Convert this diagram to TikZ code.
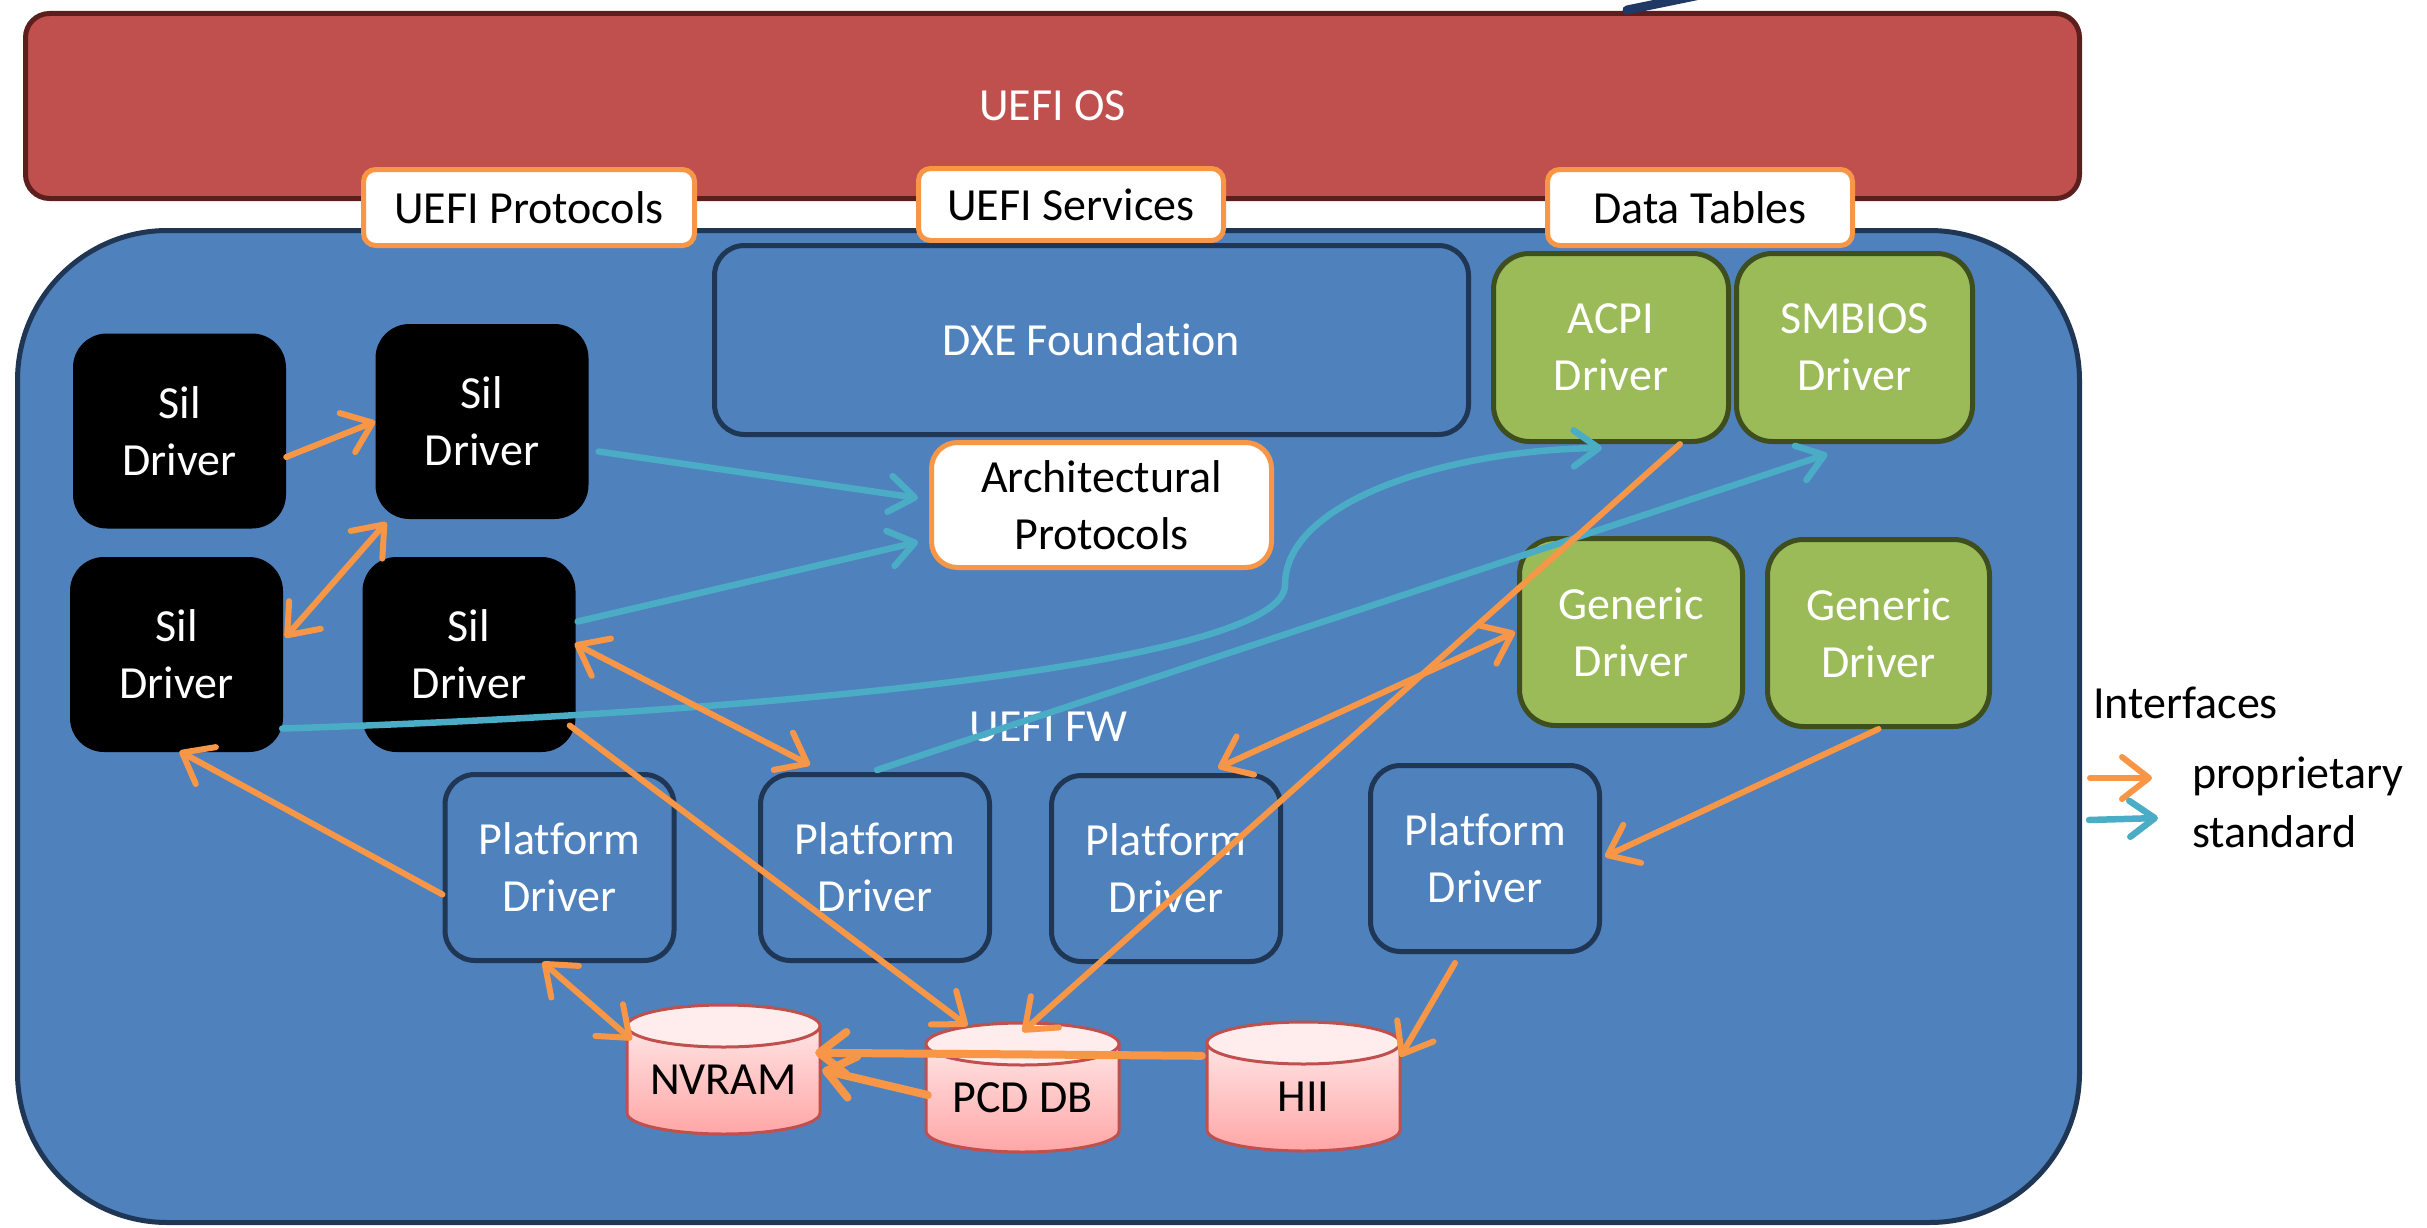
\documentclass[tikz,border=0pt]{standalone}
\usepackage{fontspec}
\setmainfont{Carlito}[Ligatures=NoCommon]
\usetikzlibrary{arrows.meta,calc}

\definecolor{osred}{HTML}{C0504D}
\definecolor{osedge}{HTML}{5C1F1D}
\definecolor{fwblue}{HTML}{4F81BD}
\definecolor{fwedge}{HTML}{1F3654}
\definecolor{drvgreen}{HTML}{9BBB59}
\definecolor{drvedge}{HTML}{3F4E1E}
\definecolor{propor}{HTML}{F79646}
\definecolor{stdcyan}{HTML}{4BACC6}
\definecolor{cylTop}{HTML}{FFE4E4}
\definecolor{cylLow}{HTML}{FFA6A6}
\definecolor{cylEdge}{HTML}{C0504D}
\definecolor{navy}{HTML}{1F3864}

% database drum: centre x, centre y of top ellipse, centre y of bottom ellipse
\newcommand\dbcyl[3]{%
  \path[top color=cylTop, bottom color=cylLow, draw=cylEdge, line width=3pt]
    (#1-96.5,#2) -- (#1-96.5,#3)
    arc[start angle=180, end angle=0, x radius=96.5, y radius=21]
    -- (#1+96.5,#2) -- cycle;
  \path[fill=cylTop!70!white, draw=cylEdge, line width=3pt]
    (#1,#2) ellipse[x radius=96.5, y radius=21];
}

\begin{document}
\begin{tikzpicture}[x=1pt, y=-1pt,
  every node/.style={font=\fontsize{46}{57}\selectfont, align=center, inner sep=0pt},
  osbox/.style={fill=osred, draw=osedge, line width=5pt, rounded corners=24pt, text=white},
  fwbox/.style={fill=fwblue, draw=fwedge, line width=5pt, rounded corners=150pt, text=white},
  tag/.style={fill=white, draw=propor, line width=5pt, rounded corners=12pt, text=black},
  silbox/.style={fill=black, rounded corners=34pt, text=white,
    minimum width=213pt, minimum height=195pt},
  platbox/.style={fill=fwblue, draw=fwedge, line width=5pt, rounded corners=30pt, text=white,
    minimum width=229pt, minimum height=186pt},
  greenbox/.style={fill=drvgreen, draw=drvedge, line width=5pt, rounded corners=36pt, text=white},
  dbnode/.style={minimum width=193pt, minimum height=108pt, text=black},
  prop/.style={draw=propor, line width=6pt, line cap=round, line join=round,
    >={Straight Barb[round, length=27pt, width=42pt]}, ->},
  propboth/.style={prop, <->},
  stdarrow/.style={draw=stdcyan, line width=6.5pt, line cap=round, line join=round,
    >={Straight Barb[round, length=25pt, width=36pt]}, ->},
]
\useasboundingbox (0,0) rectangle (2427,1228);

% containers
\node[osbox, minimum width=2054pt, minimum height=185pt] (os) at (1052.5,106) {UEFI OS};
\node[fwbox, minimum width=2062pt, minimum height=992pt] (fw) at (1048.5,726.5) {UEFI FW};

% interface tags
\node[tag, minimum width=331pt, minimum height=76pt] (tprot) at (529,207.5) {UEFI Protocols};
\node[tag, minimum width=305pt, minimum height=72pt] (tserv) at (1071,204.5) {UEFI Services};
\node[tag, minimum width=305pt, minimum height=76pt] (ttab) at (1700,207.5) {Data Tables};

% core
\node[platbox, minimum width=754pt, minimum height=189pt] (dxe) at (1091.5,340) {DXE Foundation};
\node[tag, rounded corners=26pt, minimum width=340pt, minimum height=125pt] (arch) at (1101.5,505) {Architectural\\Protocols};

% generic drivers
\node[greenbox, minimum width=235pt, minimum height=188pt] (acpi) at (1611,347.5) {ACPI\\Driver};
\node[greenbox, minimum width=236pt, minimum height=188pt] (smbios) at (1854.5,347.5) {SMBIOS\\Driver};
\node[greenbox, minimum width=223pt, minimum height=187pt] (gen1) at (1631,632) {Generic\\Driver};
\node[greenbox, minimum width=222pt, minimum height=187pt] (gen2) at (1878.5,633) {Generic\\Driver};

% silicon drivers
\node[silbox] (silA) at (179.5,431) {Sil\\Driver};
\node[silbox] (silB) at (482,421.5) {Sil\\Driver};
\node[silbox] (silC) at (176.5,654.5) {Sil\\Driver};
\node[silbox] (silD) at (469,654.5) {Sil\\Driver};

% platform drivers
\node[platbox] (p1) at (559.5,867.5) {Platform\\Driver};
\node[platbox] (p2) at (875,867.5) {Platform\\Driver};
\node[platbox] (p3) at (1166,868.5) {Platform\\Driver};
\node[platbox] (p4) at (1485,858.5) {Platform\\Driver};

% data stores
\dbcyl{723.5}{1026}{1113}
\dbcyl{1022.5}{1044}{1131}
\dbcyl{1303.5}{1043}{1130}
\node[dbnode] (nv) at (723.5,1080) {NVRAM};
\node[dbnode] (pcd) at (1022.5,1098) {PCD DB};
\node[dbnode] (hii) at (1303.5,1097) {HII};

% standard interfaces
\coordinate (sbend) at (1285,585);
\draw[stdarrow] ($(silB.east)+(10,30)$) -- ($(arch.west)+(-11,-7)$);
\draw[stdarrow] ($(silD.east)+(2,-33)$) -- ($(arch.west)+(-11,37)$);
\draw[stdarrow] ($(silC.east)+(-1,74)$) .. controls (800,712) and (1285,660) .. (sbend)
  .. controls (1285,500) and (1450,450) .. ($(acpi.south)+(-9,4)$);
\draw[stdarrow] ($(p2.north)+(2,-2)$) -- ($(smbios.south)+(-27,10)$);

% proprietary interfaces
\draw[prop] ($(silA.east)+(0,26)$) -- (silB.west);
\draw[propboth] ($(silC.east)+(2,-17)$) -- ($(silB.south west)+(11,3)$);
\draw[propboth] ($(silD.east)+(-1,-11)$) -- ($(p2.north)+(-65,-7)$);
\draw[prop] ($(silD.east)+(-6,71)$) -- ($(pcd.north)+(-55,-18)$);
\draw[prop] ($(acpi.south)+(69,0)$) -- ($(pcd.north)+(0,-12)$);
\draw[propboth] ($(gen1.west)+(-2,0)$) -- ($(p3.north)+(52,-5)$);
\draw[prop] (gen2.south) -- ($(p4.east)+(3,-2)$);
\draw[prop] ($(p1.west)+(0,27)$) -- ($(silC.south)+(3,-1)$);
\draw[propboth] ($(p1.south)+(-17,-1)$) -- ($(nv.north west)+(5,14)$);
\draw[prop] ($(p4.south)+(-30,9)$) -- ($(hii.north east)+(0,14)$);
\draw[prop, line width=8pt] ($(hii.north west)+(-5,13)$) -- ($(nv.north east)+(-5,27)$);
\draw[prop, line width=8pt] ($(pcd.west)+(2,-3)$) -- ($(nv.east)+(2,-10)$);

% incoming link above the OS bar
\coordinate (linkA) at (1627,10);
\coordinate (linkB) at (1705,-6);
\draw[navy, line width=9pt, line cap=round] (linkA) -- (linkB);

% legend
\node[anchor=base west] (legtitle) at (2093,718) {Interfaces};
\node[anchor=base west] (legprop) at (2192,788) {proprietary};
\node[anchor=base west] (legstd) at (2192,847) {standard};
\coordinate (lpa) at (2090,778);
\coordinate (lsa) at (2089,820);
\draw[prop] (lpa) -- ($(legprop.base west)+(-40,-10)$);
\draw[stdarrow] (lsa) -- ($(legstd.base west)+(-34,-29)$);
\end{tikzpicture}
\end{document}
